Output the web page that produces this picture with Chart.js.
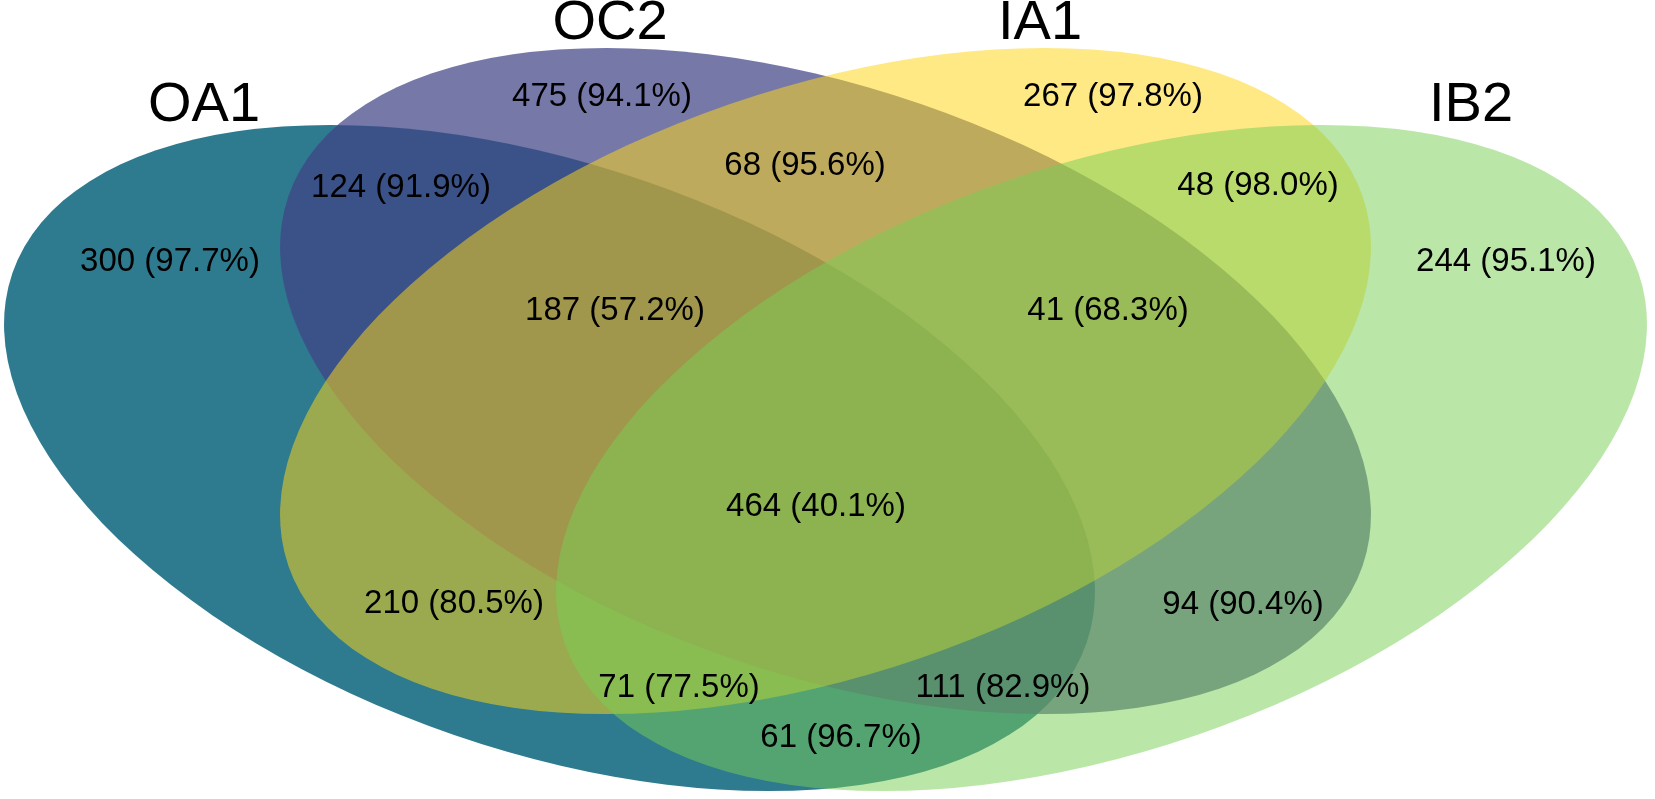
<!DOCTYPE html>
<html>
<head>
<meta charset="utf-8">
<script src="https://cdn.jsdelivr.net/npm/chart.js@4"></script>
<style>
  body { margin: 0; background: #ffffff; }
  #wrap { width: 1655px; height: 799px; position: relative; }
</style>
</head>
<body>
<div id="wrap"><canvas id="vennChart"></canvas></div>
<script>
// sets and region values (count and percent) of the venn diagram
const setNames = ["OA1", "OC2", "IA1", "IB2"];
const regionNames = [
  "OA1", "OC2", "IA1", "IB2",
  "OA1&OC2", "OC2&IA1", "IA1&IB2",
  "OA1&OC2&IA1", "OC2&IA1&IB2", "OA1&OC2&IA1&IB2",
  "OA1&IA1", "OC2&IB2", "OA1&IA1&IB2", "OA1&OC2&IB2", "OA1&IB2",
];
const regionCounts = [300, 475, 267, 244, 124, 68, 48, 187, 41, 464, 210, 94, 71, 111, 61];
const regionPercents = [97.7, 94.1, 97.8, 95.1, 91.9, 95.6, 98.0, 57.2, 68.3, 40.1, 80.5, 90.4, 77.5, 82.9, 96.7];

// layout: where the labels sit (in scale units)
const regionLabelX = [170, 602, 1113, 1506, 401, 805, 1258, 615, 1108, 816, 454, 1243, 679, 1003, 841];
const regionLabelY = [262, 97, 97, 262, 188, 166, 186, 311, 311, 507, 604, 605, 688, 688, 738];
const setLabelX = [204, 610, 1040, 1471];
const setLabelY = [106, 24, 24, 106];

// layout: ellipses of each set
const ellipseX = [549.5, 825.5, 825.5, 1101.5];
const ellipseY = [458, 381, 381, 458];
const ellipseA = 568;
const ellipseB = 293;
const ellipseTilt = [19, 19, -19, -19];
const setColors = [
  "rgba(42, 119, 140, 0.98)",
  "rgba(65, 68, 135, 0.72)",
  "rgba(253, 214, 25, 0.53)",
  "rgba(120, 206, 84, 0.51)",
];

const fontFamily = "'Liberation Sans', Arial, sans-serif";

// draws the set ellipses under the labels
const ellipsePlugin = {
  id: "ellipses",
  beforeDatasetsDraw(chart) {
    const { ctx, scales } = chart;
    const xs = scales.x;
    const ys = scales.y;
    ctx.save();
    setNames.forEach((name, i) => {
      const cx = xs.getPixelForValue(ellipseX[i]);
      const cy = ys.getPixelForValue(ellipseY[i]);
      const rx = xs.getPixelForValue(ellipseX[i] + ellipseA) - cx;
      const ry = ys.getPixelForValue(ellipseY[i] + ellipseB) - cy;
      ctx.beginPath();
      ctx.ellipse(cx, cy, Math.abs(rx), Math.abs(ry), (ellipseTilt[i] * Math.PI) / 180, 0, Math.PI * 2);
      ctx.fillStyle = setColors[i];
      ctx.fill();
    });
    ctx.restore();
  },
  afterDatasetsDraw(chart) {
    const { ctx } = chart;
    ctx.save();
    ctx.fillStyle = "#000000";
    ctx.textAlign = "center";
    ctx.textBaseline = "middle";
    // region labels
    ctx.font = "33px " + fontFamily;
    chart.getDatasetMeta(0).data.forEach((pt, i) => {
      const txt = regionCounts[i] + " (" + regionPercents[i].toFixed(1) + "%)";
      ctx.fillText(txt, pt.x, pt.y);
    });
    // set names
    ctx.font = "56px " + fontFamily;
    chart.getDatasetMeta(1).data.forEach((pt, i) => {
      ctx.fillText(setNames[i], pt.x, pt.y);
    });
    ctx.restore();
  },
};

const ctx = document.getElementById("vennChart").getContext("2d");
const vennChart = new Chart(ctx, {
  type: "scatter",
  data: {
    datasets: [
      {
        label: "regions",
        data: regionNames.map((r, i) => ({ x: regionLabelX[i], y: regionLabelY[i] })),
        pointRadius: 0,
      },
      {
        label: "sets",
        data: setNames.map((s, i) => ({ x: setLabelX[i], y: setLabelY[i] })),
        pointRadius: 0,
      },
    ],
  },
  options: {
    responsive: true,
    maintainAspectRatio: false,
    animation: false,
    layout: { padding: 0 },
    plugins: {
      legend: { display: false },
      tooltip: { enabled: false },
    },
    scales: {
      x: { type: "linear", min: 0, max: 1655, display: false },
      y: { type: "linear", min: 0, max: 799, reverse: true, display: false },
    },
  },
  plugins: [ellipsePlugin],
});
</script>
</body>
</html>
